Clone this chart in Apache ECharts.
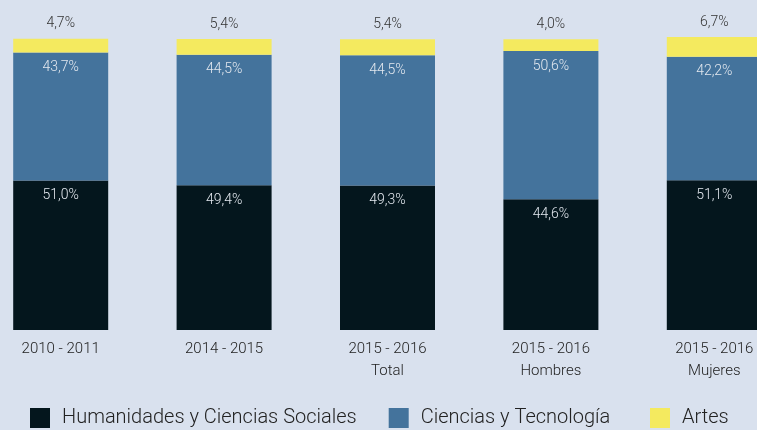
<!DOCTYPE html>
<html>
<head>
<meta charset="utf-8">
<script src="https://cdn.jsdelivr.net/npm/echarts@6/dist/echarts.min.js"></script>
<style>
html,body{margin:0;padding:0;background:#d9e1ee;}
#chart{width:757px;height:430px;}
</style>
</head>
<body>
<div id="chart"></div>
<script>
// datos
var categorias = ["2010 - 2011", "2014 - 2015", "2015 - 2016\nTotal", "2015 - 2016\nHombres", "2015 - 2016\nMujeres"];
var humanidades = [51.0, 49.4, 49.3, 44.6, 51.1];
var ciencias = [43.7, 44.5, 44.5, 50.6, 42.2];
var artes = [4.7, 5.4, 5.4, 4.0, 6.7];

function fmt(v){
	return v.toFixed(1).replace(".", ",") + "%";
}

var myChart = echarts.init(document.getElementById("chart"));

var insideLabel = {
	show: true,
	position: "insideTop",
	distance: 8,
	color: "#e3e8ef",
	fontFamily: "Roboto",
	fontWeight: 300,
	fontSize: 14,
	formatter: function(p){ return fmt(p.value); }
};

var legendText = { fontFamily: "Roboto", fontWeight: 300, fontSize: 20, color: "#222", padding: [0, 0, 0, 7] };

var option = {
	backgroundColor: "#d9e1ee",
	animation: false,
	grid: { left: -21, width: 817, top: 37, bottom: 100, outerBoundsMode: "none", containLabel: false },
	legend: [
		{
			bottom: -3,
			left: 25,
			icon: "rect",
			itemWidth: 20,
			itemHeight: 20,
			itemGap: 32,
			textStyle: legendText,
			data: ["Humanidades y Ciencias Sociales", "Ciencias y Tecnología"]
		},
		{
			bottom: -3,
			left: 645,
			icon: "rect",
			itemWidth: 20,
			itemHeight: 20,
			textStyle: legendText,
			data: ["Artes"]
		}
	],
	xAxis: {
		type: "category",
		data: categorias,
		axisLine: { show: false },
		axisTick: { show: false },
		axisLabel: { margin: 8, fontFamily: "Roboto", fontWeight: 300, fontSize: 15, color: "#222", lineHeight: 22 }
	},
	yAxis: {
		type: "value",
		min: 0,
		max: 100,
		show: false
	},
	series: [
		{
			name: "Humanidades y Ciencias Sociales",
			type: "bar",
			stack: "t",
			barWidth: 95,
			itemStyle: { color: "#04161d" },
			label: insideLabel,
			data: humanidades
		},
		{
			name: "Ciencias y Tecnología",
			type: "bar",
			stack: "t",
			barWidth: 95,
			itemStyle: { color: "#44739c" },
			label: insideLabel,
			data: ciencias
		},
		{
			name: "Artes",
			type: "bar",
			stack: "t",
			barWidth: 95,
			itemStyle: { color: "#f4ea5f" },
			label: {
				show: true,
				position: "top",
				distance: 8,
				color: "#333",
				fontFamily: "Roboto",
				fontWeight: 300,
				fontSize: 14,
				formatter: function(p){ return fmt(p.value); }
			},
			data: artes
		}
	]
};
myChart.setOption(option);
</script>
</body>
</html>
